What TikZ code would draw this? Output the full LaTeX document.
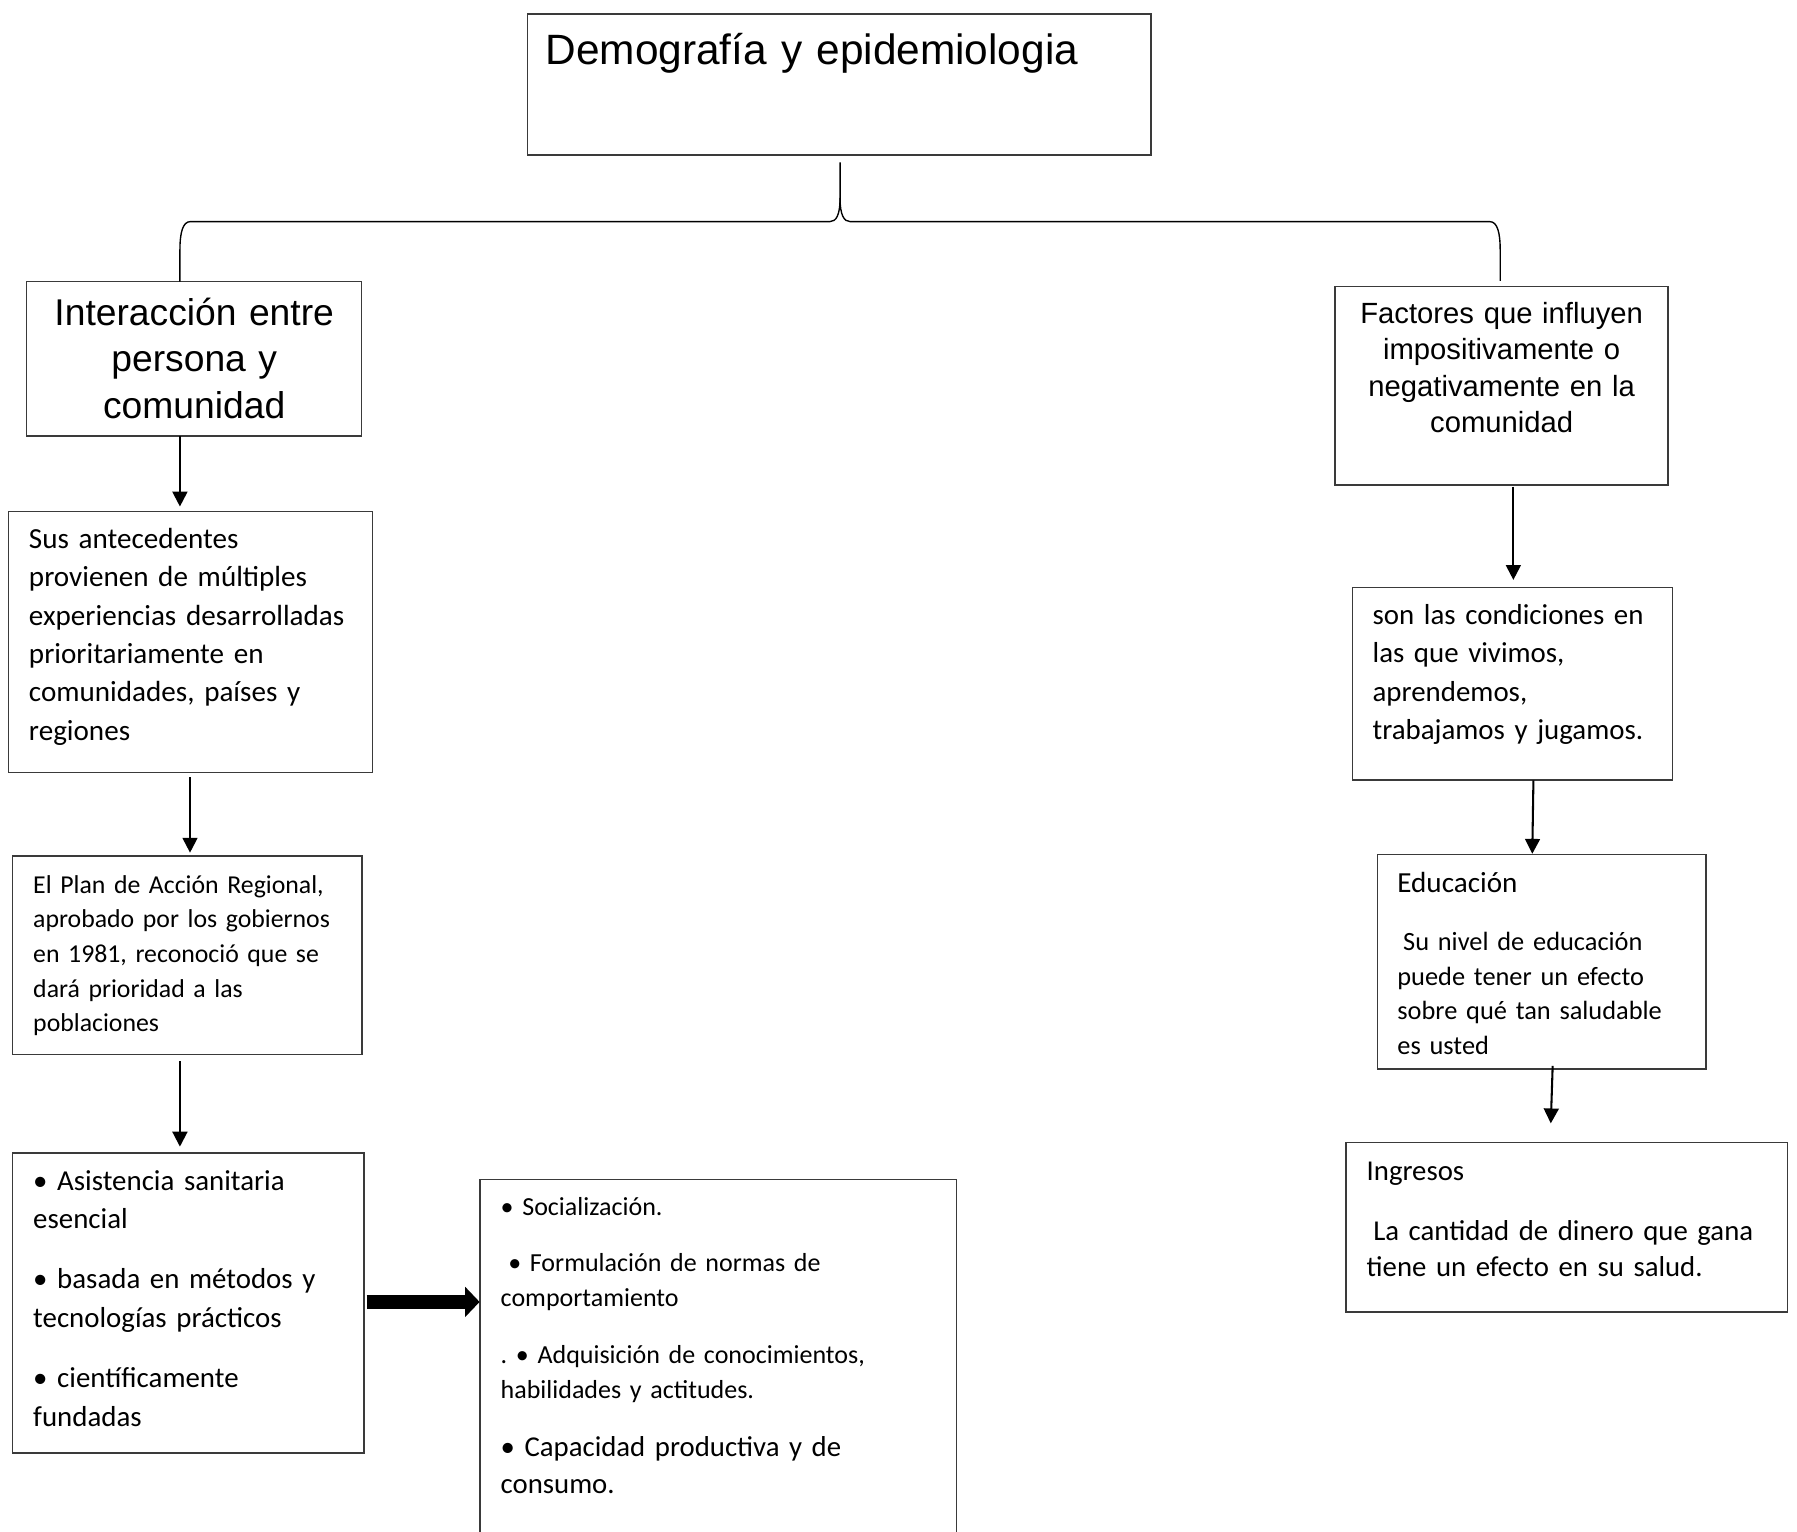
\documentclass[tikz,border=0pt]{standalone}
\usepackage{fontspec}
\setmainfont{Carlito}
\newfontfamily\myArial{Liberation Sans}
\newfontfamily\myCalib{Carlito}
\usetikzlibrary{arrows.meta}
\definecolor{boxgray}{HTML}{3A3A3A}
\newcommand\myAr[2]{\myArial\fontsize{#1}{#2}\selectfont\frenchspacing}
\newcommand\myCa[2]{\myCalib\fontsize{#1}{#2}\selectfont\frenchspacing}
\begin{document}
\begin{tikzpicture}[x=1pt,y=-1pt,
  box/.style={draw=boxgray, line width=1.3pt, inner sep=0pt, outer sep=0pt, anchor=north west},
  txt/.style={anchor=base west, inner sep=0pt, outer sep=0pt, align=left, text width=600pt},
  ctxt/.style={anchor=base, inner sep=0pt, outer sep=0pt, align=center},
  arr/.style={draw=black, line width=1.8pt, -{Triangle[width=13pt,length=13pt]}},
  bigarr/.style={draw=black, line width=12.5pt, -{Triangle[width=25.6pt,length=12.6pt]}},
  brace/.style={draw=black, line width=1.2pt}]
\useasboundingbox (0,0) rectangle (1568,1336);
\clip (0,0) rectangle (1568,1336);

% boxes
\node[box, minimum width=543.8pt, minimum height=123pt] (T) at (460.4,12.2) {};
\node[box, minimum width=292.3pt, minimum height=134.6pt] (A) at (23.3,245.8) {};
\node[box, minimum width=317.6pt, minimum height=227.4pt] (B) at (7.3,446.5) {};
\node[box, minimum width=305pt, minimum height=173pt] (C) at (11,747) {};
\node[box, minimum width=306.6pt, minimum height=262pt] (D) at (11,1006) {};
\node[box, minimum width=415.8pt, minimum height=330pt] (E) at (419,1029) {};
\node[box, minimum width=290.6pt, minimum height=173pt] (R1) at (1165,250) {};
\node[box, minimum width=279.5pt, minimum height=168.1pt] (R2) at (1180,512.5) {};
\node[box, minimum width=286.8pt, minimum height=187.3pt] (R3) at (1201.8,745.5) {};
\node[box, minimum width=385.1pt, minimum height=147.9pt] (R4) at (1174.5,997.1) {};

% texts
\node[txt, font=\myAr{37}{45}] (tT) at (476,56) {Demografía y epidemiologia};
\node[ctxt, text width=292pt, font=\myAr{32.5}{40.7}] (tA) at (169.45,283.6) {Interacción entre\\persona y\\comunidad};
\node[txt, font=\myCa{25.4}{33.5}] (tB) at (25.3,478.4) {Sus antecedentes\\provienen de múltiples\\experiencias desarrolladas\\prioritariamente en\\comunidades, países y\\regiones};
\node[txt, font=\myCa{22.5}{30.2}] (tC) at (29,779.4) {El Plan de Acción Regional,\\aprobado por los gobiernos\\en 1981, reconoció que se\\dará prioridad a las\\poblaciones};
\node[txt, font=\myCa{25.2}{33.9}] (tD) at (29,1038.4) {• Asistencia sanitaria\\esencial\\[18.2pt]• basada en métodos y\\tecnologías prácticos\\[18.2pt]• científicamente\\fundadas};
\node[txt, font=\myCa{22.7}{30.5}] (tE1) at (436.9,1060.2) {• Socialización.\\[18.9pt]\hspace*{0.29em}• Formulación de normas de\\comportamiento\\[19pt]. • Adquisición de conocimientos,\\habilidades y actitudes.};
\node[txt, font=\myCa{25.1}{32}] (tE2) at (436.9,1271) {• Capacidad productiva y de\\consumo.};
\node[ctxt, text width=290pt, font=\myAr{25.5}{31.8}] (tR1) at (1310.3,282) {Factores que influyen\\impositivamente o\\negativamente en la\\comunidad};
\node[txt, font=\myCa{25.2}{33.7}] (tR2) at (1197.7,544.5) {son las condiciones en\\las que vivimos,\\aprendemos,\\trabajamos y jugamos.};
\node[txt, font=\myCa{25.4}{30.5}] (tR3a) at (1219.3,779) {Educación};
\node[txt, font=\myCa{23}{30.5}] (tR3b) at (1219.3,829) {\hspace*{0.22em}Su nivel de educación\\puede tener un efecto\\sobre qué tan saludable\\es usted};
\node[txt, font=\myCa{25.1}{32}] (tR4) at (1192.5,1029.7) {Ingresos\\[20.3pt]\hspace*{0.23em}La cantidad de dinero que gana\\tiene un efecto en su salud.};

% brace
\coordinate (bt) at ([xshift=0.7pt,yshift=-6.4pt]T.south);
\coordinate (bL) at ([xshift=-12.45pt]A.north);
\coordinate (bR) at ([xshift=-1.3pt,yshift=5pt]R1.north);
\draw[brace] (bt) -- (733,172.6) .. controls (733,188) and (729.5,193.4) .. (724,193.4) -- (166,193.4)
  .. controls (159.5,193.4) and (157,203) .. (157,218) -- (bL);
\draw[brace] (733,172.6) .. controls (733,188) and (736.5,193.4) .. (742,193.4) -- (1300,193.4)
  .. controls (1306.5,193.4) and (1309,203) .. (1309,218) -- (bR);

% arrows
\draw[arr] ([xshift=-12.45pt]A.south) -- ([xshift=-9.1pt,yshift=4.5pt]B.north);
\draw[arr] ([xshift=-0.3pt,yshift=-4.1pt]B.south) -- ([xshift=2.3pt,yshift=3pt]C.north);
\draw[arr] ([xshift=-6.5pt,yshift=-6pt]C.south) -- ([xshift=-7.3pt,yshift=5.5pt]D.north);
\draw[bigarr] ([xshift=2.4pt,yshift=-130pt]D.north east) -- ([xshift=-0.5pt,yshift=-107pt]E.north west);
\draw[arr] ([xshift=10.2pt,yshift=-1.6pt]R1.south) -- ([xshift=0.75pt,yshift=6.5pt]R2.north);
\draw[arr] ([xshift=18.25pt,yshift=-0.4pt]R2.south) -- ([xshift=-8.2pt,yshift=0.5pt]R3.north);
\draw[arr] ([xshift=9.6pt,yshift=2.8pt]R3.south) -- ([xshift=-13.9pt,yshift=16.9pt]R4.north);
\end{tikzpicture}
\end{document}
